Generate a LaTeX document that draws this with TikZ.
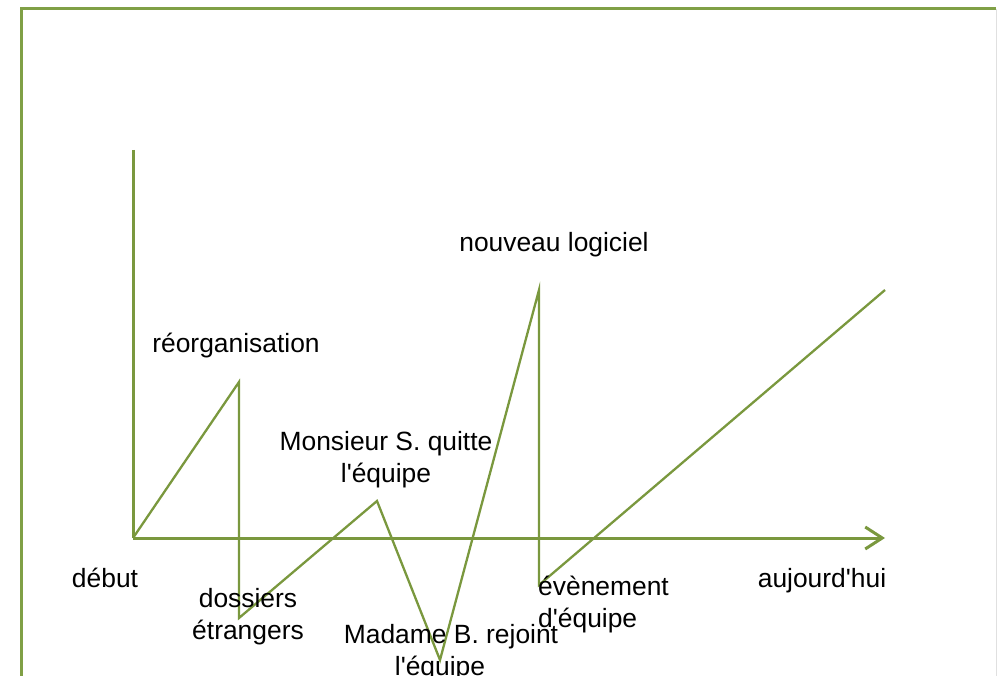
\documentclass[tikz,border=0pt]{standalone}
\usepackage{fontspec}
\setmainfont{Liberation Sans}
\usetikzlibrary{arrows.meta}
\definecolor{olive}{RGB}{122,152,62}
\definecolor{frameolive}{RGB}{128,160,70}
\newcommand{\apo}{\textquotesingle}
\begin{document}
\begin{tikzpicture}[x=1pt,y=-1pt,
  lbl/.style={font=\fontsize{26.4}{32}\selectfont, text=black, inner sep=0pt, align=center},
  axis/.style={draw=olive, line width=3pt},
  zig/.style={draw=olive, line width=2.3pt, line join=miter},
  frameline/.style={draw=frameolive, line width=3pt}]
\useasboundingbox (0,0) rectangle (997,676);
% frame
\draw[frameline] (21,680) -- (21,9) -- (996,9);
\draw[draw=black!12, line width=1pt] (996,9) -- (996,680);
% axes
\coordinate (o) at (133,538);
\coordinate (ytop) at (133,150);
\coordinate (xend) at (885,538);
\draw[axis] (ytop) -- (o);
\draw[axis, -{Straight Barb[length=17pt,width=22pt,line width=3pt]}] (o) -- (xend);
% zigzag points
\coordinate (p1) at (239,382);
\coordinate (p2) at (239,618);
\coordinate (p3) at (377,501);
\coordinate (p4) at (440,660);
\coordinate (p5) at (539,290);
\coordinate (p6) at (539,585);
\coordinate (p7) at (885,290);
\draw[zig] (o) -- (p1) -- (p2) -- (p3) -- (p4) -- (p5) -- (p6) -- (p7);
% labels
\node[lbl] (debut) at (105,578) {début};
\node[lbl] (reorg) at (236,346) {réorganisation};
\node[lbl, align=center] (dossiers) at (248,617) {dossiers\\étrangers};
\node[lbl, align=center] (monsieur) at (386,460) {Monsieur S. quitte\\l\apo équipe};
\node[lbl] (madame1) at (451,637) {Madame B. rejoint};
\node[lbl] (madame2) at (440,669) {l\apo équipe};
\node[lbl] (logiciel) at (554,245) {nouveau logiciel};
\node[lbl, align=left, anchor=west] (evenement) at (538,605) {évènement\\d\apo équipe};
\node[lbl] (aujourdhui) at (822,581) {aujourd\apo hui};
\end{tikzpicture}
\end{document}
